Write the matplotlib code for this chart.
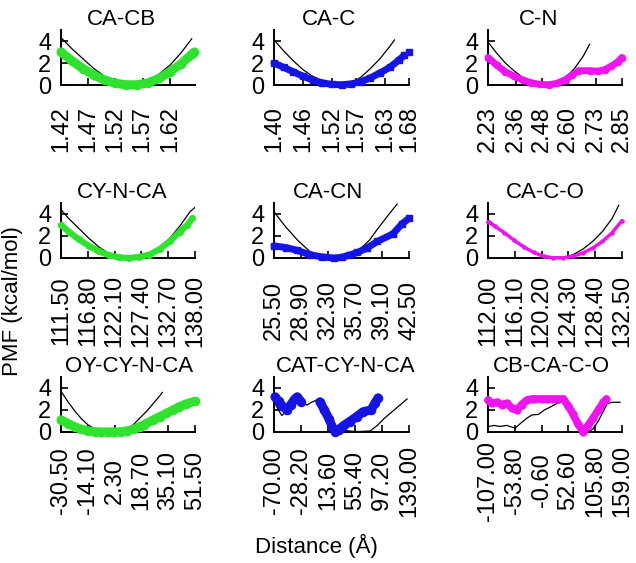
import numpy as np
import matplotlib
matplotlib.use("Agg")
import matplotlib.pyplot as plt

plt.rcParams['font.family'] = ['Liberation Sans', 'DejaVu Sans']
plt.rcParams['font.size'] = 16

# panel titles (row by row)
titles = ['CA-CB', 'CA-C', 'C-N',
          'CY-N-CA', 'CA-CN', 'CA-C-O',
          'OY-CY-N-CA', 'CAT-CY-N-CA', 'CB-CA-C-O']

# x tick labels of each panel
ticks_cacb = ['1.42', '1.47', '1.52', '1.57', '1.62']
ticks_cac = ['1.40', '1.46', '1.52', '1.57', '1.63', '1.68']
ticks_cn = ['2.23', '2.36', '2.48', '2.60', '2.73', '2.85']
ticks_cynca = ['111.50', '116.80', '122.10', '127.40', '132.70', '138.00']
ticks_cacn = ['25.50', '28.90', '32.30', '35.70', '39.10', '42.50']
ticks_caco = ['112.00', '116.10', '120.20', '124.30', '128.40', '132.50']
ticks_oycynca = ['-30.50', '-14.10', '2.30', '18.70', '35.10', '51.50']
ticks_catcynca = ['-70.00', '-28.20', '13.60', '55.40', '97.20', '139.00']
ticks_cbcaco = ['-107.00', '-53.80', '-0.60', '52.60', '105.80', '159.00']

# reference PMF (black) and computed PMF (coloured) for each panel
cacb_ref_x = [1.42, 1.44, 1.46, 1.48, 1.50, 1.52, 1.54, 1.56, 1.58, 1.60, 1.62, 1.64, 1.66]
cacb_ref_y = [4.3, 3.3, 2.4, 1.5, 0.8, 0.3, 0.05, 0.05, 0.4, 1.0, 1.8, 2.9, 4.2]
cacb_x = [1.42, 1.44, 1.46, 1.48, 1.50, 1.52, 1.54, 1.56, 1.58, 1.60, 1.62, 1.64, 1.66, 1.665]
cacb_y = [3.0, 2.2, 1.5, 0.9, 0.45, 0.15, 0.02, 0.02, 0.2, 0.6, 1.2, 1.9, 2.8, 3.0]

cac_ref_x = [1.40, 1.42, 1.44, 1.46, 1.48, 1.50, 1.52, 1.54, 1.56, 1.58, 1.60, 1.62, 1.64, 1.65]
cac_ref_y = [4.1, 3.1, 2.2, 1.4, 0.8, 0.35, 0.08, 0.02, 0.2, 0.7, 1.5, 2.4, 3.5, 4.1]
cac_x = [1.40, 1.42, 1.44, 1.46, 1.48, 1.50, 1.52, 1.54, 1.56, 1.58, 1.60, 1.62, 1.64, 1.66, 1.67, np.nan, 1.68]
cac_y = [2.0, 1.6, 1.2, 0.8, 0.45, 0.2, 0.05, 0.02, 0.1, 0.3, 0.65, 1.1, 1.6, 2.3, 2.7, np.nan, 3.0]

cn_ref_x = [2.23, 2.27, 2.31, 2.35, 2.39, 2.43, 2.47, 2.51, 2.55, 2.59, 2.63, 2.67, 2.70]
cn_ref_y = [3.9, 2.9, 2.0, 1.3, 0.7, 0.3, 0.05, 0.0, 0.2, 0.7, 1.5, 2.6, 3.7]
cn_x = [2.23, 2.27, 2.31, 2.35, 2.39, 2.43, 2.47, 2.51, 2.55, 2.59, 2.62, 2.65, 2.70, 2.74, 2.77, 2.80, 2.83, 2.85]
cn_y = [2.5, 1.8, 1.2, 0.8, 0.45, 0.2, 0.05, 0.02, 0.15, 0.5, 0.9, 1.3, 1.3, 1.25, 1.4, 1.7, 2.1, 2.5]

cynca_ref_x = [111.5, 113, 115, 117, 119, 121, 123, 125, 127, 129, 131, 133, 135, 137, 138]
cynca_ref_y = [4.4, 3.6, 2.7, 1.8, 1.0, 0.4, 0.1, 0.0, 0.1, 0.4, 1.0, 1.8, 2.9, 4.2, 4.6]
cynca_x = [111.5, 113, 115, 117, 119, 121, 123, 125, 127, 129, 131, 133, 135, 136.5, 137.5]
cynca_y = [3.0, 2.4, 1.7, 1.1, 0.6, 0.25, 0.05, 0.0, 0.1, 0.3, 0.8, 1.5, 2.4, 3.0, 3.6]

cacn_ref_x = [25.5, 27, 28.5, 30, 31.5, 33, 34.5, 36, 37.5, 38.5, 40, 41]
cacn_ref_y = [4.2, 2.8, 1.6, 0.6, 0.1, 0.0, 0.1, 0.6, 1.6, 2.6, 4.0, 4.9]
cacn_x = [25.5, 27, 28.4, 30, 31.5, 33, 34, 35, 36, 37.2, 38.5, 40.5, 41.6, 42.5]
cacn_y = [1.1, 0.95, 0.7, 0.3, 0.1, 0.0, 0.05, 0.27, 0.5, 0.9, 1.5, 2.2, 3.1, 3.6]

caco_ref_x = [112, 113, 114.5, 116, 117.5, 119, 120.5, 122, 123.5, 125, 126.5, 128, 129.5, 131, 132]
caco_ref_y = [3.5, 3.0, 2.3, 1.6, 1.0, 0.5, 0.15, 0.0, 0.05, 0.3, 0.8, 1.5, 2.4, 3.6, 4.8]
caco_x = [112, 113, 114.5, 116, 117.5, 119, 120.5, 122, 123.5, 125, 126.5, 128, 129.5, 131, 132.5]
caco_y = [3.3, 2.9, 2.3, 1.6, 1.0, 0.5, 0.15, 0.02, 0.02, 0.15, 0.45, 0.9, 1.5, 2.3, 3.4]

oycynca_ref_x = [-30.5, -26, -22, -18, -14, -10, -6, -2, 2, 6, 10, 14, 18, 22, 26, 30, 31.5]
oycynca_ref_y = [3.7, 2.7, 1.9, 1.2, 0.65, 0.3, 0.08, 0.0, 0.0, 0.05, 0.25, 0.7, 1.3, 1.9, 2.6, 3.3, 3.6]
oycynca_x = [-30.5, -26, -22, -18, -14, -10, -6, -2, 2, 6, 10, 14, 18, 20, 26, 30, 34, 38, 42, 46, 51.5]
oycynca_y = [1.1, 0.75, 0.45, 0.25, 0.1, 0.03, 0.0, 0.0, 0.0, 0.02, 0.1, 0.25, 0.5, 0.65, 1.1, 1.4, 1.7, 2.0, 2.3, 2.55, 2.8]

catcynca_ref_x = [-68.5, -63, -58, -52, -45, -38, -32, -26, -19, -12, -4, 5, 13, 20, 26, 35, 45, 55, 65,
                  79, 90, 100, 110, 120, 130, 136]
catcynca_ref_y = [2.6, 2.0, 1.5, 1.8, 2.3, 2.6, 2.9, 2.7, 2.45, 2.7, 2.9, 2.0, 1.0, 0.2, 0.0, 0.2, 0.1, 0.05, 0.05,
                  0.1, 0.6, 1.2, 1.7, 2.2, 2.7, 3.0]
catcynca_x = [-68.5, -63, -58, -50, -44, -38, -34, -28, np.nan, 1, 8, 15, 20, 25, 30, 38, 47, 58, 68, 80, 86, 91]
catcynca_y = [3.2, 2.8, 2.4, 2.0, 2.5, 3.0, 3.2, 2.75, np.nan, 2.75, 2.0, 1.2, 0.5, 0.0, 0.2, 0.6, 0.95, 1.4, 1.85,
              2.0, 2.6, 3.1]

cbcaco_ref_x = [-106, -95, -83, -70, -53, -42, -30, -20, -7, 5, 18, 30, 43, 55, 65, 75, 82, 92, 102, 112,
                122, 130, 140, 155]
cbcaco_ref_y = [0.5, 0.6, 0.5, 0.6, 0.35, 0.8, 1.25, 1.55, 1.6, 2.0, 2.3, 2.6, 2.75, 2.2, 1.4, 0.5, 0.0, 0.0,
                0.3, 1.0, 1.9, 2.6, 2.7, 2.7]
cbcaco_x = [-107, -100, -90, -80, -70, -60, -50, -40, -30, -20, -13, 0, 10, 20, 30, 42, 52, 62, 72, 82, 92,
            102, 112, 122, 128]
cbcaco_y = [2.9, 2.6, 2.7, 2.5, 2.6, 2.2, 2.0, 2.5, 2.9, 3.0, 3.0, 3.0, 3.0, 3.0, 3.0, 3.0, 2.4, 1.6, 0.7,
            0.0, 0.6, 1.3, 2.0, 2.7, 3.0]

green = '#2ee22e'
blue = '#1414e6'
magenta = '#f014f0'

panels = [
    (ticks_cacb, cacb_ref_x, cacb_ref_y, cacb_x, cacb_y, green, 'o', 6.5),
    (ticks_cac, cac_ref_x, cac_ref_y, cac_x, cac_y, blue, 's', 5),
    (ticks_cn, cn_ref_x, cn_ref_y, cn_x, cn_y, magenta, 'o', 5),
    (ticks_cynca, cynca_ref_x, cynca_ref_y, cynca_x, cynca_y, green, 'o', 4.5),
    (ticks_cacn, cacn_ref_x, cacn_ref_y, cacn_x, cacn_y, blue, 's', 5),
    (ticks_caco, caco_ref_x, caco_ref_y, caco_x, caco_y, magenta, 'o', 2.5),
    (ticks_oycynca, oycynca_ref_x, oycynca_ref_y, oycynca_x, oycynca_y, green, 'o', 6.5),
    (ticks_catcynca, catcynca_ref_x, catcynca_ref_y, catcynca_x, catcynca_y, blue, 'o', 6.5),
    (ticks_cbcaco, cbcaco_ref_x, cbcaco_ref_y, cbcaco_x, cbcaco_y, magenta, 'o', 5.5),
]

W, H = 636, 563
fig = plt.figure(figsize=(W / 100, H / 100), dpi=100)

col_left = [61, 274, 488]
col_w = [134, 135, 134]
row_top = [30, 203, 377]
ax_h = 55
label_pad = [32, 38, 35]
title_x = [0.45, 0.41, 0.38, 0.46, 0.40, 0.43, 0.51, 0.53, 0.47]

for i, (tl, rx, ry, cx, cy, col, mk, lw) in enumerate(panels):
    r, c = divmod(i, 3)
    ax = fig.add_axes([col_left[c] / W, 1 - (row_top[r] + ax_h) / H, col_w[c] / W, ax_h / H])
    ax.plot(rx, ry, color='black', lw=0.9, zorder=2)
    ax.plot(cx, cy, color=col, lw=lw, marker=mk, ms=lw * 0.9, mec=col,
            solid_capstyle='round', zorder=3, clip_on=False)
    tv = [float(t) for t in tl]
    ax.set_xticks(tv)
    ax.set_xticklabels(tl, rotation=90, va='center', fontsize=17)
    if i == 0:
        ax.set_xlim(1.42, 1.666)
    else:
        ax.set_xlim(tv[0], tv[-1])
    ax.set_ylim(0, 5)
    ax.set_yticks([0, 2, 4])
    ax.set_yticklabels(['0', '2', '4'], fontsize=17)
    for s in ['top', 'right']:
        ax.spines[s].set_visible(False)
    for s in ['left', 'bottom']:
        ax.spines[s].set_linewidth(1.4)
    ax.tick_params(axis='both', direction='in', length=5, width=1.2)
    ax.tick_params(axis='y', pad=7)
    ax.tick_params(axis='x', pad=label_pad[r])
    ax.set_title(titles[i], x=title_x[i], pad=2, fontsize=16)

fig.text(13 / W, 1 - 301 / H, 'PMF (kcal/mol)', rotation=90, ha='center', va='center', fontsize=16)
fig.text(316 / W, 1 - 546 / H, 'Distance (Å)', ha='center', va='center', fontsize=16)

fig.savefig('out.png', dpi=100)
